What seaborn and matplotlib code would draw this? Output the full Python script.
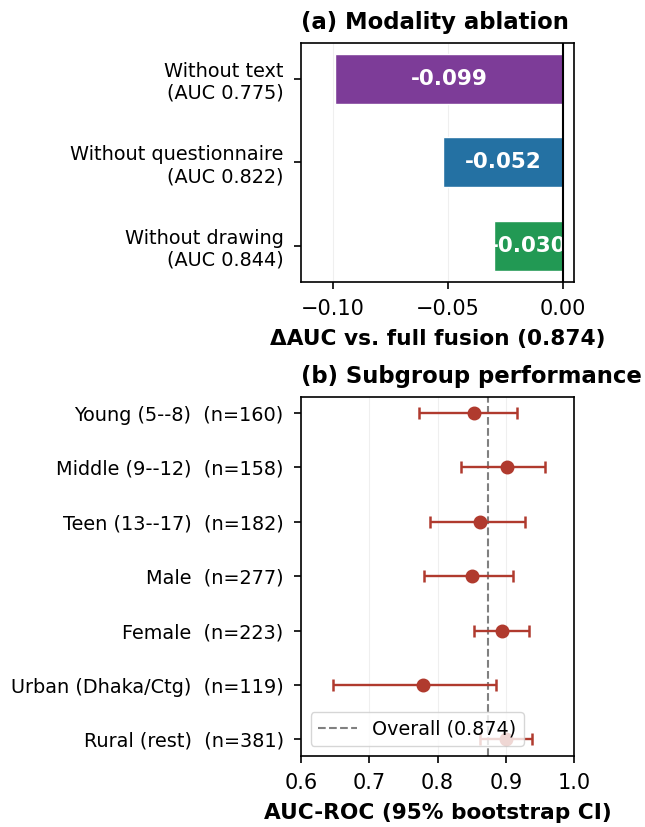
import numpy as np
import pandas as pd
import matplotlib
matplotlib.use("Agg")
import matplotlib.pyplot as plt
import seaborn as sns

sns.set_style("ticks")
plt.rcParams['font.family'] = ['DejaVu Sans']
plt.rcParams.update({"text.color": "black", "axes.labelcolor": "black",
                     "xtick.color": "black", "ytick.color": "black",
                     "axes.edgecolor": "black"})

# (a) modality ablation
abl_labels = ["Without text\n(AUC 0.775)",
              "Without questionnaire\n(AUC 0.822)",
              "Without drawing\n(AUC 0.844)"]
abl_delta = [-0.099, -0.052, -0.030]
abl_colors = ["#7D3C98", "#2471A3", "#229954"]
full_auc = 0.874

# (b) subgroup performance
sub_labels = ["Young (5--8)  (n=160)", "Middle (9--12)  (n=158)",
              "Teen (13--17)  (n=182)", "Male  (n=277)", "Female  (n=223)",
              "Urban (Dhaka/Ctg)  (n=119)", "Rural (rest)  (n=381)"]
sub_auc = [0.853, 0.902, 0.862, 0.851, 0.895, 0.779, 0.901]
sub_lo = [0.773, 0.834, 0.789, 0.780, 0.853, 0.647, 0.862]
sub_hi = [0.916, 0.957, 0.928, 0.911, 0.934, 0.885, 0.938]
overall = 0.874

red = "#B03A2E"

fig = plt.figure(figsize=(6.45, 8.27), dpi=100)
ax1 = fig.add_axes([0.4667, 0.6594, 0.4233, 0.289])
ax2 = fig.add_axes([0.4667, 0.0862, 0.4233, 0.434])

df_a = pd.DataFrame({"label": abl_labels, "delta": abl_delta})
sns.barplot(data=df_a, x="delta", y="label", hue="label", palette=abl_colors,
            legend=False, width=0.6, saturation=1, orient="h", ax=ax1, zorder=2)
for i, v in enumerate(abl_delta):
    ax1.text(v / 2, i, f"{v:.3f}", ha="center", va="center", color="white",
             fontsize=15.5, fontweight="bold", zorder=3)
ax1.axvline(0, color="black", lw=1.5, zorder=3)
ax1.set_xlim(-0.114, 0.005)
ax1.set_ylim(2.43, -0.43)
ax1.set_xticks([-0.10, -0.05, 0.00])
ax1.grid(axis="x", alpha=0.3)
ax1.set_ylabel("")
ax1.set_xlabel("ΔAUC vs. full fusion (0.874)", fontsize=15.6,
               fontweight="bold", labelpad=7)
ax1.set_title("(a) Modality ablation", fontsize=16.4, fontweight="bold",
              pad=9.6, loc="left")

df_b = pd.DataFrame({"label": sub_labels, "auc": sub_auc})
sns.pointplot(data=df_b, x="auc", y="label", color=red, linestyle="none",
              errorbar=None, markersize=8, ax=ax2, zorder=4)
auc = np.array(sub_auc)
ax2.errorbar(auc, np.arange(len(auc)),
             xerr=[auc - np.array(sub_lo), np.array(sub_hi) - auc],
             fmt="none", ecolor=red, elinewidth=1.7, capsize=4, capthick=1.8,
             zorder=3)
ax2.axvline(overall, color="gray", ls="--", lw=1.5, label=f"Overall ({overall})",
            zorder=2)
ax2.set_xlim(0.6, 1.0)
ax2.set_ylim(6.3, -0.3)
ax2.set_xticks([0.6, 0.7, 0.8, 0.9, 1.0])
ax2.grid(axis="x", alpha=0.3)
ax2.set_ylabel("")
ax2.set_xlabel("AUC-ROC (95% bootstrap CI)", fontsize=15.6,
               fontweight="bold", labelpad=7)
ax2.set_title("(b) Subgroup performance", fontsize=16.4, fontweight="bold",
              pad=9.6, loc="left")
ax2.legend(loc="lower left", fontsize=13.8, framealpha=0.8)

for ax in (ax1, ax2):
    ax.tick_params(axis="x", labelsize=15, length=5, width=1.2, pad=7.5)
    ax.tick_params(axis="y", labelsize=13.9, length=5, width=1.2, pad=7.5)
    for s in ax.spines.values():
        s.set_linewidth(1.2)

fig.savefig("out.png", dpi=100)
